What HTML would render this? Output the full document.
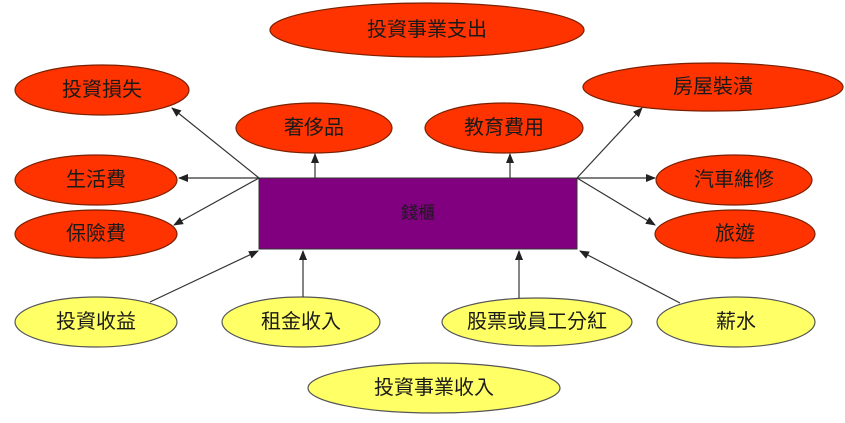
<!DOCTYPE html>
<html><head><meta charset="utf-8"><style>
html,body{margin:0;padding:0;background:#fff;width:845px;height:423px;overflow:hidden}
text{font-family:"Liberation Sans","Noto Sans CJK TC",sans-serif;font-size:20px;fill:#1a1a1a;text-anchor:middle;dominant-baseline:central}
</style></head><body>
<svg width="845" height="423" xmlns="http://www.w3.org/2000/svg">
<defs><marker id="a" markerWidth="10" markerHeight="8" refX="9" refY="4" orient="auto" markerUnits="userSpaceOnUse"><path d="M0,0 L10,4 L0,8 z" fill="#222"/></marker></defs>
<g fill="#ff3300" stroke="#7a2000" stroke-width="1.2">
<ellipse cx="427" cy="30" rx="157" ry="27"/>
<ellipse cx="102" cy="90" rx="87" ry="25"/>
<ellipse cx="314" cy="128" rx="78" ry="25"/>
<ellipse cx="504" cy="128" rx="79" ry="25"/>
<ellipse cx="713" cy="87" rx="130" ry="24"/>
<ellipse cx="96" cy="180" rx="81" ry="25"/>
<ellipse cx="734" cy="180" rx="78" ry="25"/>
<ellipse cx="96" cy="234" rx="81" ry="24"/>
<ellipse cx="735" cy="234" rx="80" ry="24"/>
</g>
<g fill="#ffff66" stroke="#555" stroke-width="1.2">
<ellipse cx="96" cy="322" rx="81" ry="25"/>
<ellipse cx="301" cy="322" rx="79" ry="25"/>
<ellipse cx="537" cy="322" rx="95" ry="24"/>
<ellipse cx="736" cy="322" rx="79" ry="25"/>
<ellipse cx="434" cy="388" rx="126" ry="25"/>
</g>
<rect x="259" y="178" width="318" height="71" fill="#800080" stroke="#333" stroke-width="1"/>
<g stroke="#333" stroke-width="1.2" marker-end="url(#a)">
<line x1="259" y1="178" x2="172" y2="108"/>
<line x1="259" y1="178" x2="179" y2="178"/>
<line x1="259" y1="178" x2="174" y2="225"/>
<line x1="315" y1="178" x2="315" y2="154"/>
<line x1="510" y1="178" x2="510" y2="154"/>
<line x1="577" y1="178" x2="642" y2="108"/>
<line x1="577" y1="178" x2="655" y2="178"/>
<line x1="577" y1="178" x2="655" y2="225"/>
<line x1="150" y1="302" x2="258" y2="251"/>
<line x1="303" y1="297" x2="303" y2="251"/>
<line x1="519" y1="298" x2="519" y2="251"/>
<line x1="680" y1="303" x2="580" y2="251"/>
</g>
<text x="427" y="30">投資事業支出</text>
<text x="102" y="90">投資損失</text>
<text x="314" y="128">奢侈品</text>
<text x="504" y="128">教育費用</text>
<text x="713" y="87">房屋裝潢</text>
<text x="96" y="180">生活費</text>
<text x="734" y="180">汽車維修</text>
<text x="96" y="234">保險費</text>
<text x="735" y="234">旅遊</text>
<text x="418" y="213" style="font-size:17px">錢櫃</text>
<text x="96" y="322">投資收益</text>
<text x="301" y="322">租金收入</text>
<text x="537" y="322">股票或員工分紅</text>
<text x="736" y="322">薪水</text>
<text x="434" y="388">投資事業收入</text>
</svg>
</body></html>
